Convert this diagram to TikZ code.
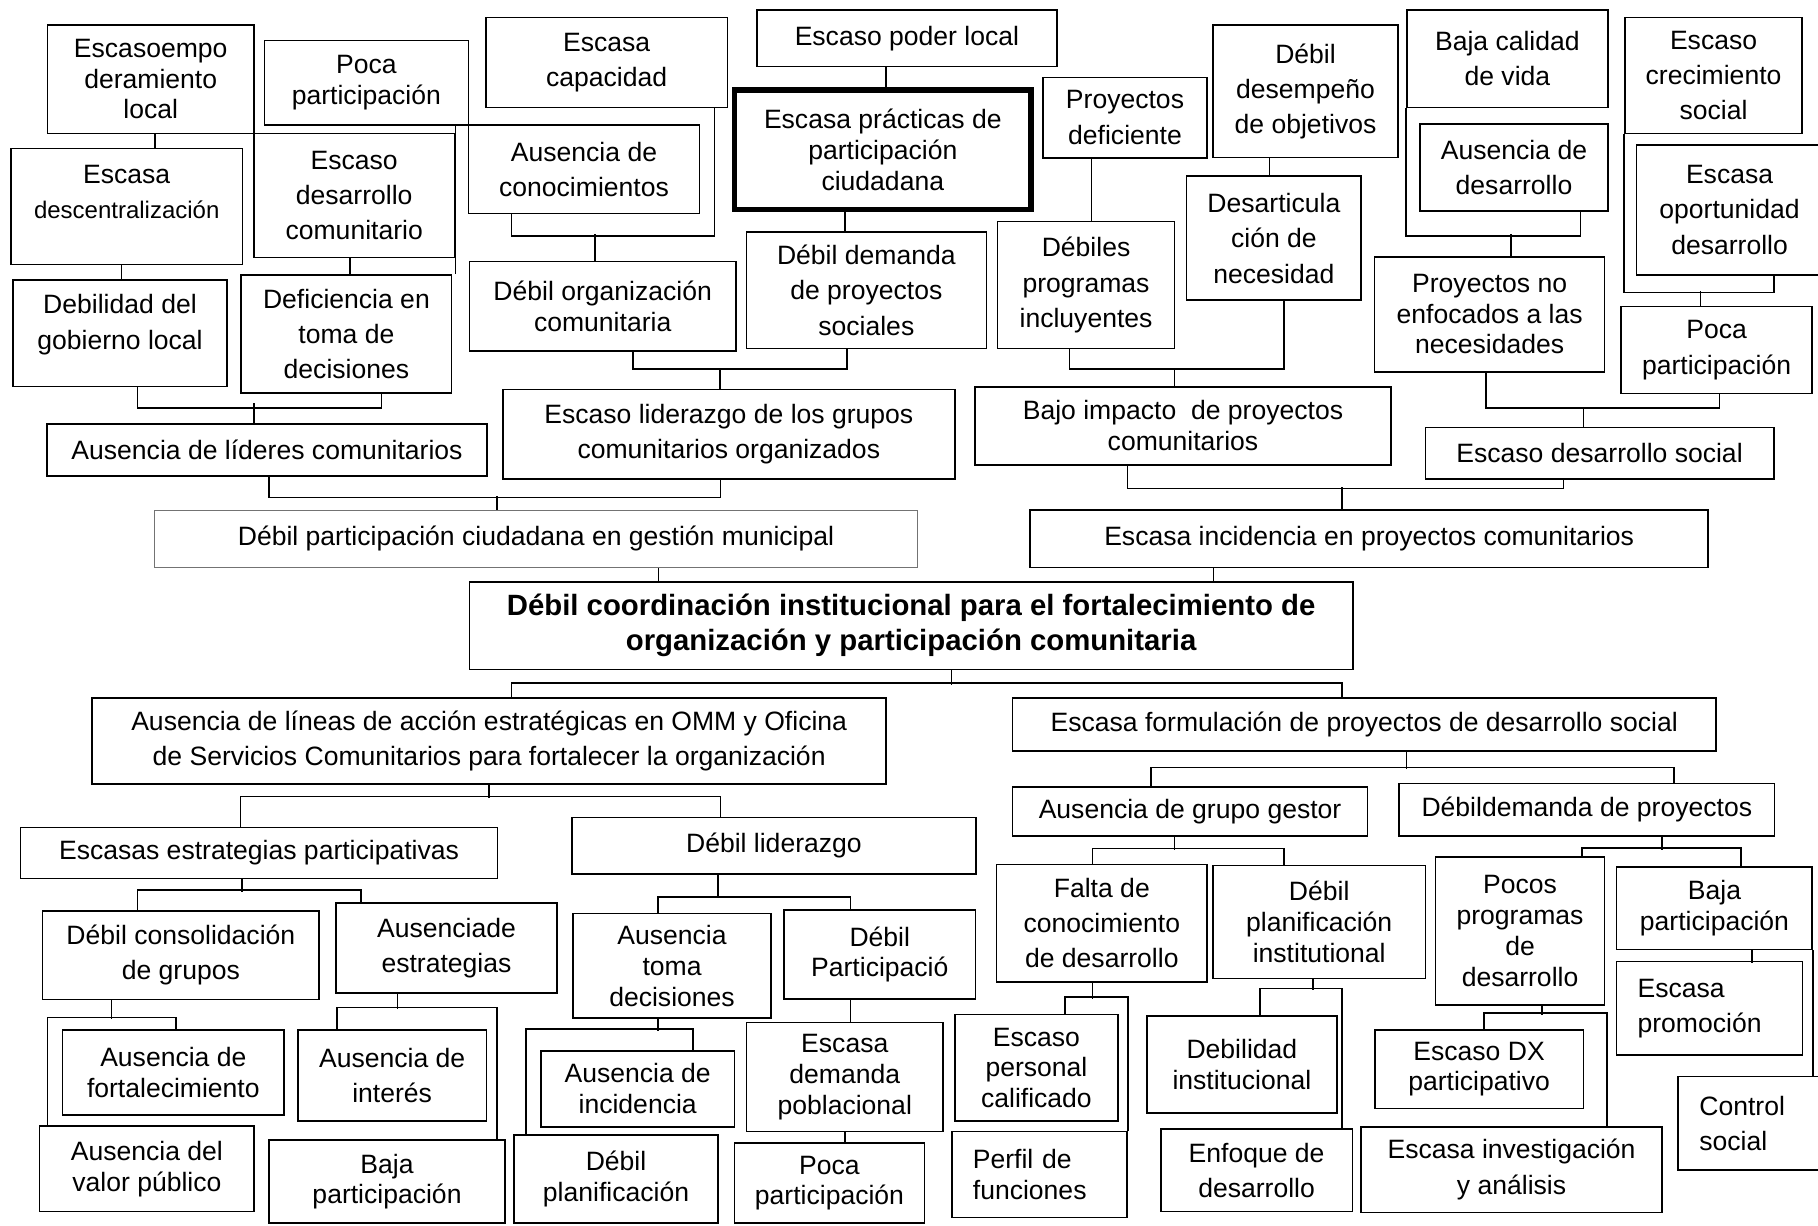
\documentclass[tikz,border=0pt]{standalone}
\usepackage{fontspec}
\setmainfont{Liberation Sans}
\begin{document}
\begin{tikzpicture}[x=1pt,y=-1pt,line width=1.4pt]
\tikzstyle{box}=[draw, align=center, inner sep=0pt, font=\fontsize{22.9}{30.5}\selectfont]
\tikzstyle{tight}=[font=\fontsize{22.9}{26.5}\selectfont]
\tikzstyle{lefty}=[align=left, inner xsep=18pt]
\tikzset{wh/.style 2 args={minimum width=#1pt, minimum height=#2pt}}

\useasboundingbox (0,0) rectangle (1568,1057);

\node[box, tight, wh={178}{93.4}] (escempo) at (130,68.3) {Escasoempo\\deramiento\\local};
\node[box, tight, wh={176}{73}] (pocaA) at (316,71.5) {Poca\\participación};
\node[box, wh={199.5}{100}, text depth=25pt] (escdesc) at (109.3,178) {Escasa\\{\fontsize{20.7}{26}\selectfont descentralización}};
\node[box, wh={173}{107}] (escdes) at (305.5,168.5) {Escaso\\desarrollo\\comunitario};
\node[box, wh={185}{92}, text depth=20pt] (debgob) at (103.5,287.5) {Debilidad del\\gobierno local};
\node[box, wh={181.5}{102}] (deftoma) at (298.8,288) {Deficiencia en\\toma de\\decisiones};
\node[box, wh={208.3}{77.6}] (escap) at (523.2,53.8) {Escasa\\capacidad};
\node[box, wh={199.4}{76}] (auscon) at (503.7,146) {Ausencia de\\conocimientos};
\node[box, wh={258.4}{49}] (poder) at (782.2,33) {Escaso poder local};
\node[box, tight, wh={255.8}{103.4}, line width=4.5pt] (practicas) at (761.4,129.3) {Escasa prácticas de\\participación\\ciudadana};
\node[box, wh={207}{100.5}] (debdem) at (747.2,250.3) {Débil demanda\\de proyectos\\sociales};
\node[box, tight, wh={229.5}{76.8}] (deborg) at (519.8,264.1) {Débil organización\\comunitaria};
\node[box, wh={389.7}{77}] (liderazgo) at (628.6,374.5) {Escaso liderazgo de los grupos\\comunitarios organizados};
\node[box, wh={379.5}{45}] (lideres) at (230.3,388.2) {Ausencia de líderes comunitarios};
\node[box, wh={141.5}{69.3}] (proydef) at (970.3,101.4) {Proyectos\\deficiente};
\node[box, wh={152.7}{109.5}] (debprog) at (936.7,245.8) {Débiles\\programas\\incluyentes};
\node[box, wh={160}{114.4}] (desemp) at (1126,78.8) {Débil\\desempeño\\de objetivos};
\node[box, wh={150.7}{107}] (desart) at (1098.7,205.5) {Desarticula\\ción de\\necesidad};
\node[box, tight, wh={358.5}{67.5}] (impacto) at (1020.3,367.3) {Bajo impacto~ de proyectos\\comunitarios};
\node[box, wh={173.4}{84}] (calidad) at (1300.1,50.6) {Baja calidad\\de vida};
\node[box, wh={162}{75}] (ausdes) at (1305.8,144.5) {Ausencia de\\desarrollo};
\node[box, tight, wh={198.4}{99.2}] (enfoc) at (1284.8,271) {Proyectos no\\enfocados a las\\necesidades};
\node[box, wh={153}{100}] (crec) at (1477.9,65) {Escaso\\crecimiento\\social};
\node[box, wh={160.7}{112}] (oport) at (1491.7,181) {Escasa\\oportunidad\\desarrollo};
\node[box, wh={165}{74.8}] (pocaB) at (1480.5,301.9) {Poca\\participación};
\node[box, wh={300.5}{44.4}] (dessoc) at (1379.6,390.8) {Escaso desarrollo social};

\node[box, wh={657.4}{49.6}, draw=black!55, line width=0.8pt] (particip) at (462.3,464.8) {Débil participación ciudadana en gestión municipal};
\node[box, wh={584.9}{49.6}] (incid) at (1180.9,464.8) {Escasa incidencia en proyectos comunitarios};
\node[box, wh={761.8}{75.6}, font=\fontsize{25.3}{30.5}\selectfont\bfseries] (central) at (785.8,539.5) {Débil coordinación institucional para el fortalecimiento de\\organización y participación comunitaria};

\node[box, wh={684.7}{74.4}] (lineas) at (421.9,639) {Ausencia de líneas de acción estratégicas en OMM y Oficina\\de Servicios Comunitarios para fortalecer la organización};
\node[box, wh={606.5}{46}] (formul) at (1176.6,624.8) {Escasa formulación de proyectos de desarrollo social};
\node[box, wh={411.3}{44}] (estrat) at (223.4,735.6) {Escasas estrategias participativas};
\node[box, wh={348.1}{48.8}] (lidzgo) at (667.5,729.4) {Débil liderazgo};
\node[box, wh={306.2}{42.5}] (gestor) at (1026.4,699.8) {Ausencia de grupo gestor};
\node[box, wh={324}{45.3}] (demproy) at (1368.6,698.4) {Débildemanda de proyectos};
\node[box, wh={238.4}{76.3}] (consol) at (156,823.9) {Débil consolidación\\de grupos};
\node[box, wh={190.2}{77.2}] (ausestr) at (385.1,817.6) {Ausenciade\\estrategias};
\node[box, tight, wh={191.1}{73.3}] (fortal) at (149.5,925.1) {Ausencia de\\fortalecimiento};
\node[box, tight, wh={185.2}{73.8}] (valor) at (126.7,1008.1) {Ausencia del\\valor público};
\node[box, wh={162.7}{78.2}] (interes) at (338.2,927.5) {Ausencia de\\interés};
\node[box, tight, wh={203.5}{71.7}] (bajaC) at (333.8,1019.2) {Baja\\participación};
\node[box, tight, wh={171.2}{90.5}] (toma) at (579.6,833) {Ausencia\\toma\\decisiones};
\node[box, tight, wh={165.4}{76.6}] (debpart) at (758.8,823.3) {Débil\\Participació};
\node[box, tight, wh={166.9}{65.6}] (ausinc) at (550,939) {Ausencia de\\incidencia};
\node[box, tight, wh={175.7}{76}] (debplan) at (531.3,1017) {Débil\\planificación};
\node[box, tight, wh={169.8}{94}] (demapob) at (728.6,929) {Escasa\\demanda\\poblacional};
\node[box, tight, wh={163.7}{69.4}] (pocaD) at (715.4,1020.3) {Poca\\participación};
\node[box, wh={181.4}{101.2}] (falta) at (950.3,796.1) {Falta de\\conocimiento\\de desarrollo};
\node[box, tight, wh={183.2}{97.2}] (planinst) at (1137.8,795.2) {Débil\\planificación\\institutional};
\node[box, tight, wh={140.9}{92}] (personal) at (893.9,921) {Escaso\\personal\\calificado};
\node[box, tight, lefty, text width=115pt, wh={151.1}{74}] (perfil) at (896.6,1013) {Perfil de\\funciones};
\node[box, tight, wh={163.8}{83.7}] (debinst) at (1071.1,917.9) {Debilidad\\institucional};
\node[box, wh={165.4}{71}] (enfoque) at (1083.8,1009.5) {Enfoque de\\desarrollo};
\node[box, tight, wh={146}{127.8}] (pocos) at (1311,802.9) {Pocos\\programas\\de\\desarrollo};
\node[box, tight, wh={168.7}{71.3}] (bajaE) at (1478.7,783.2) {Baja\\participación};
\node[box, lefty, text width=124pt, wh={160.1}{80.6}] (promo) at (1474.4,869.7) {Escasa\\promoción};
\node[box, lefty, text width=88pt, wh={124.7}{80.4}] (control) at (1509.7,968.8) {Control\\social};
\node[box, tight, wh={180.1}{67.6}] (dx) at (1275.7,922.2) {Escaso DX\\participativo};
\node[box, wh={260}{73.9}] (invest) at (1303.7,1008.8) {Escasa investigación\\y análisis};

\draw ([xshift=3.7pt]escempo.south) -- ++(0,13);
\draw ([xshift=-4.6pt]escdesc.south) -- ++(0,13.5);
\draw ([xshift=-3.5pt]escdes.south) -- ++(0,15);
\draw (pocaA.south -| escdes.east) -- (deftoma.north -| escdes.east);
\draw ([xshift=15.2pt]debgob.south) -- ++(0,17.5) -| ([xshift=30.2pt]deftoma.south);
\draw ([xshift=-11.3pt]lideres.north) -- ++(0,-17.5);
\draw ([xshift=-62.7pt]auscon.south) -- ++(0,18.7) -| ([xshift=93.2pt]escap.south);
\draw ([xshift=-6.8pt]deborg.north) -- ++(0,-23);
\draw ([xshift=-18.2pt]poder.south) -- ++(0,20.1);
\draw ([xshift=-32.4pt]practicas.south) -- ++(0,17);
\draw ([xshift=26pt]deborg.south) -- ++(0,15.2) -| ([xshift=-16.9pt]debdem.south);
\draw ([xshift=-7.8pt]liderazgo.north) -- ++(0,-18.3);
\draw ([xshift=-28.9pt]proydef.south) -- ++(0,55);
\draw ([xshift=-31pt]desemp.south) -- ++(0,16);
\draw ([xshift=-14.4pt]debprog.south) -- ++(0,17.2) -| ([xshift=8.7pt]desart.south);
\draw ([xshift=-7.3pt]impacto.north) -- ++(0,-15.8);
\draw (calidad.south west) -- ++(0,110.1) -| ([xshift=57.2pt]ausdes.south);
\draw ([xshift=18.2pt]enfoc.north) -- ++(0,-18.7);
\draw (crec.south west) -- ++(0,136.6) -| ([xshift=38.3pt]oport.south);
\draw ([xshift=-13.8pt]pocaB.north) -- ++(0,-12.9);
\draw ([xshift=-3.4pt]enfoc.south) -- ++(0,30.8) -| ([xshift=2.5pt]pocaB.south);
\draw ([xshift=-13.9pt]dessoc.north) -- ++(0,-17.2);
\draw ([xshift=1.5pt]lideres.south) -- ++(0,17.8) -| ([xshift=-7.1pt]liderazgo.south);
\draw ([xshift=-33.7pt]particip.north) -- ++(0,-11.6);
\draw ([xshift=-48pt]impacto.south) -- ++(0,19.6) -| ([xshift=-31.1pt]dessoc.south);
\draw ([xshift=-23.3pt]incid.north) -- ++(0,-19.6);
\draw ([xshift=105.5pt]particip.south) -- ++(0,12.1);
\draw ([xshift=-134.4pt]incid.south) -- ++(0,12.1);

\draw ([xshift=34.9pt]central.south) -- ++(0,12.7);
\draw ([xshift=19.4pt]lineas.north) -- ++(0,-11.8) -| ([xshift=-19pt]formul.north);
\draw (lineas.south) -- ++(0,11.5);
\draw ([xshift=-15.9pt]estrat.north) -- ++(0,-25.9) -| ([xshift=-46pt]lidzgo.north);
\draw ([xshift=36.6pt]formul.south) -- ++(0,14.9);
\draw ([xshift=-33.9pt]gestor.north) -- ++(0,-15.8) -| ([xshift=75.4pt]demproy.north);
\draw ([xshift=-14.7pt]estrat.south) -- ++(0,10.6);
\draw ([xshift=-37.3pt]consol.north) -- ++(0,-17.5) -| ([xshift=-73.7pt]ausestr.north);
\draw ([xshift=-59.8pt]consol.south) -- ++(0,16.3);
\draw ([xshift=-85.7pt]valor.north) -- ++(0,-92.9) -| ([xshift=2.3pt]fortal.north);
\draw ([xshift=-42.3pt]ausestr.south) -- ++(0,13.5);
\draw ([xshift=-47.6pt]interes.north) -- ++(0,-18.7) -| ([xshift=94.9pt]bajaC.north);
\draw ([xshift=-48.4pt]lidzgo.south) -- ++(0,20.4);
\draw ([xshift=-12pt]toma.north) -- ++(0,-13.6) -| ([xshift=-25.4pt]debpart.north);
\draw ([xshift=-12pt]toma.south) -- ++(0,10.1);
\draw ([xshift=-77.7pt]debplan.north) -- ++(0,-90.6) -| ([xshift=47.6pt]ausinc.north);
\draw ([xshift=-25.4pt]debpart.south) -- ++(0,20.4);
\draw (demapob.south) -- (pocaD.north -| demapob.south);
\draw ([xshift=-13.4pt]gestor.south) -- ++(0,11.6);
\draw ([xshift=-8.2pt]falta.north) -- ++(0,-12.9) -| ([xshift=-30.4pt]planinst.north);
\draw ([xshift=-8.2pt]falta.south) -- ++(0,13.8);
\draw ([xshift=24.4pt]personal.north) -- ++(0,-14.5) -| (perfil.north east);
\draw ([xshift=-5.2pt]planinst.south) -- ++(0,9.5);
\draw ([xshift=15.6pt]debinst.north) -- ++(0,-22.7) -| ([xshift=73.6pt]enfoque.north);
\draw ([xshift=65.1pt]demproy.south) -- ++(0,11.3);
\draw ([xshift=53.7pt]pocos.north) -- ++(0,-6.7) -| ([xshift=22.7pt]bajaE.north);
\draw ([xshift=32.3pt]bajaE.south) -- ++(0,10.6);
\draw (bajaE.south east) -- (control.north -| bajaE.south east);
\draw ([xshift=18.7pt]pocos.south) -- ++(0,7.8);
\draw ([xshift=4pt]dx.north) -- ++(0,-13.8) -| ([xshift=82.4pt]invest.north);
\end{tikzpicture}
\end{document}
